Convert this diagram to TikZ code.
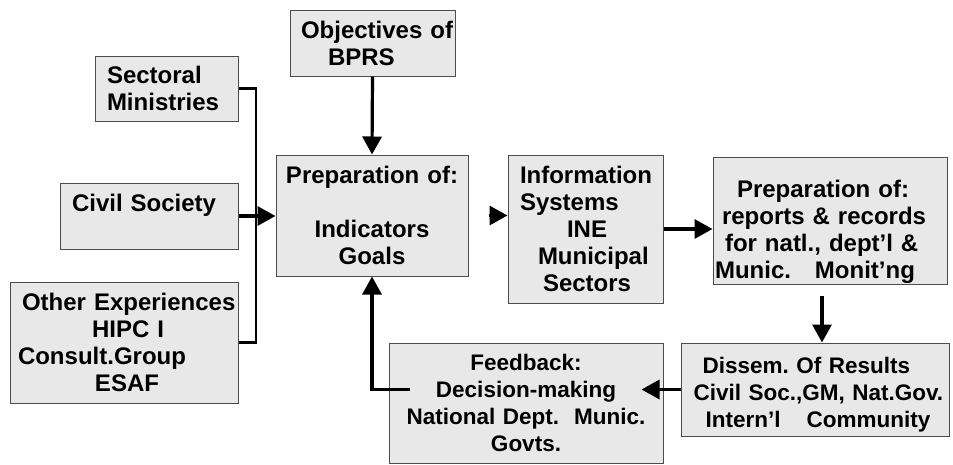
\documentclass[tikz,border=0pt]{standalone}
\usepackage{fontspec}
\setmainfont{Liberation Sans}
\usetikzlibrary{arrows.meta,calc}

\newcommand{\bigtxt}{\fontsize{24}{27}\selectfont\bfseries\frenchspacing}
\newcommand{\smalltxt}{\fontsize{22.5}{27}\selectfont\bfseries\frenchspacing}

\begin{document}
\begin{tikzpicture}[x=1pt,y=-1pt,
  box/.style={rectangle, draw=black!70, fill=black!9, line width=1pt, inner sep=0pt, align=left, font=\bigtxt},
  conn/.style={line width=3.2pt, -{Triangle[length=18pt,width=19pt]}},
  bus/.style={line width=2.5pt}]

\useasboundingbox (0,0) rectangle (953,464);

% inputs on the left
\node (sect) at (166.5,88.5) [box, text width=143pt, minimum height=65pt]{\hspace*{12pt}Sectoral\\\hspace*{12pt}Ministries};
\node (civil) at (149,216) [box, text width=178pt, minimum height=66pt]{\hspace*{12pt}Civil Society\\\mbox{}};
\node (other) at (124,342.5) [box, text width=228pt, minimum height=121pt]{\hspace*{12pt}Other Experiences\\\hspace*{82pt}HIPC I\\\hspace*{8pt}Consult.Group\\\hspace*{85pt}ESAF};

\node (obj) at (372.5,43) [box, text width=165pt, minimum height=66pt]{\hspace*{11pt}Objectives of\\\hspace*{38pt}BPRS};
\node (prep) at (372,215.5) [box, text width=192pt, minimum height=121pt, align=center]{Preparation of:\\[27pt]Indicators\\Goals};

\node (info) at (585.5,229) [box, text width=155pt, minimum height=148pt]{\hspace*{12pt}Information\\\hspace*{12pt}Systems\\\hspace*{59pt}INE\\\hspace*{30pt}Municipal\\\hspace*{35pt}Sectors};
\node (reports) at (830,221) [box, text width=234pt, minimum height=112pt]{\rule{0pt}{40pt}\hspace*{24pt}Preparation of:\\\hspace*{9pt}reports \& records\\\hspace*{12pt}for natl., dept'l \&\\\hspace*{2pt}Munic.~~~Monit'ng};

% bottom row
\node (dissem) at (815.5,389.5) [box, text width=268pt, minimum height=93pt, font=\smalltxt]{\rule{0pt}{26pt}\hspace*{21pt}Dissem. Of Results\\\hspace*{12pt}Civil Soc.,GM, Nat.Gov.\\\hspace*{24pt}Intern'l\hspace{26pt}Community};
\node (fb) at (526,403) [box, text width=274pt, minimum height=120pt, align=center, font=\smalltxt]{Feedback:\\Decision-making\\National Dept.~~Munic.\\Govts.};

% connectors
\coordinate (bus) at (256,216);
\draw[bus] (sect.east) -- (sect.east -| bus) -- (other.east -| bus) -- (other.east);
\draw[conn] (civil.east) -- (civil.east -| prep.west);
\draw[conn] (obj.south) -- (prep.north);
\draw[conn, shorten <=20pt] (prep.east) -- (prep.east -| info.west);
\draw[conn] (info.east) -- (info.east -| reports.west);
\coordinate (rd) at ($(reports.south)+(-8,0)$);
\draw[conn, shorten <=11pt] (rd) -- (rd |- dissem.north);
\draw[conn] (dissem.west) -- ($(dissem.west -| fb.east)+(-22,0)$);
\draw[conn] ($(dissem.west -| fb.west)+(21,0)$) -| (prep.south);

\end{tikzpicture}
\end{document}
